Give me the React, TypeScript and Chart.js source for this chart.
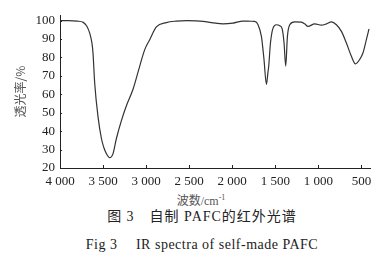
import React, { useEffect, useRef } from "react";
import { Chart, registerables } from "chart.js";

Chart.register(...registerables);

const wavenumbers = [
  4000, 3900, 3800, 3730, 3690, 3654, 3630, 3617, 3597, 3559, 3519, 3490, 3461, 3423, 3384, 3345,
  3287, 3229, 3152, 3074, 3016, 2958, 2881, 2765, 2650, 2532, 2420, 2339, 2220, 2107, 1991, 1875,
  1780, 1739, 1700, 1661, 1640, 1631, 1603, 1585, 1576, 1556, 1526, 1487, 1448, 1420, 1398, 1379,
  1359, 1332, 1274, 1196, 1158, 1120, 1042, 964, 906, 848, 790, 732, 674, 616, 569, 519, 481, 442, 412,
];
const transmittance = [
  100, 100, 99.7, 99, 97, 93, 88, 82.5, 66, 48, 36, 31, 27.8, 25.6, 27.8, 36,
  45.7, 53.8, 62.7, 75.3, 84.2, 89.6, 96.5, 98.9, 99.7, 100, 99.8, 99.5, 98.7, 98.2, 98.6, 99.7,
  99.6, 99.5, 97.7, 91.4, 83, 78.9, 65.4, 72, 75.3, 87.8, 95.9, 97.7, 97.2, 95.5, 87.8, 75.3,
  91.4, 97.7, 99.3, 99.1, 98.2, 96.8, 98.2, 97.5, 98.2, 99.3, 97.7, 94.1, 87.8, 80.6, 76.5, 78.9, 82.5, 89.6, 95.4,
];
const xTickValues = [4000, 3500, 3000, 2500, 2000, 1500, 1000, 500];
const yTickValues = [20, 30, 40, 50, 60, 70, 80, 90, 100];

const yTitle = "透光率/%";
const xTitle = "波数/cm";
const captionCN = "图 3\u2003自制 PAFC的红外光谱";
const captionEN = "Fig 3\u2003 IR spectra of self-made PAFC";

function fmt(v: number): string {
  if (v >= 1000) {
    return `${Math.floor(v / 1000)} ${String(v % 1000).padStart(3, "0")}`;
  }
  return String(v);
}

const innerTicks = {
  id: "innerTicks",
  afterDatasetsDraw(chart: any) {
    const { ctx, scales } = chart;
    const xs = scales.x;
    const ys = scales.y;
    ctx.save();
    ctx.strokeStyle = "#222";
    ctx.lineWidth = 1;
    ctx.beginPath();
    for (const v of xTickValues) {
      const px = Math.round(xs.getPixelForValue(v)) + 0.5;
      ctx.moveTo(px, ys.bottom);
      ctx.lineTo(px, ys.bottom - 3);
    }
    for (const v of yTickValues) {
      const py = Math.round(ys.getPixelForValue(v)) + 0.5;
      ctx.moveTo(xs.left, py);
      ctx.lineTo(xs.left + 2, py);
    }
    ctx.stroke();
    ctx.restore();
  },
};

export default function App() {
  const ref = useRef<HTMLCanvasElement | null>(null);
  useEffect(() => {
    if (!ref.current) return;
    const points = wavenumbers.map((w, i) => ({ x: w, y: transmittance[i] }));
    const chart = new Chart(ref.current, {
      type: "line",
      data: {
        datasets: [
          {
            data: points,
            borderColor: "#333",
            borderWidth: 1.2,
            pointRadius: 0,
            cubicInterpolationMode: "monotone",
            fill: false,
          },
        ],
      },
      options: {
        responsive: false,
        animation: false,
        layout: { padding: { left: 0, right: 14, top: 15, bottom: 0 } },
        plugins: { legend: { display: false }, tooltip: { enabled: false } },
        scales: {
          x: {
            type: "linear",
            min: 400,
            max: 4000,
            reverse: true,
            afterBuildTicks: (s: any) => {
              s.ticks = xTickValues.map((v) => ({ value: v }));
            },
            afterFit: (s: any) => {
              s.height = 22;
            },
            grid: { display: false, drawTicks: false },
            border: { display: true, color: "#222", width: 1 },
            ticks: {
              autoSkip: false,
              maxRotation: 0,
              padding: 6,
              color: "#222",
              font: { family: "Liberation Serif", size: 13 },
              callback: (v: any) => fmt(Number(v)),
            },
          },
          y: {
            min: 20,
            max: 103,
            afterBuildTicks: (s: any) => {
              s.ticks = yTickValues.map((v) => ({ value: v }));
            },
            afterFit: (s: any) => {
              s.width = 60;
            },
            grid: { display: false, drawTicks: false },
            border: { display: true, color: "#222", width: 1 },
            ticks: {
              padding: 5,
              color: "#222",
              font: { family: "Liberation Serif", size: 13 },
            },
            title: {
              display: true,
              text: yTitle,
              color: "#555",
              font: { family: "Noto Sans CJK SC", size: 12 },
              padding: { top: 13, bottom: 0 },
            },
          },
        },
      },
      plugins: [innerTicks],
    });
    return () => chart.destroy();
  }, []);

  const serif = "'Liberation Serif', 'Noto Sans CJK SC', serif";
  return (
    <div style={{ position: "absolute", left: 0, top: 0, width: 384, height: 266, background: "#fff", fontFamily: serif }}>
      <canvas ref={ref} width={384} height={190} style={{ display: "block" }} />
      <div style={{ position: "absolute", left: 0, width: 384, top: 190, textAlign: "center", fontSize: 12, color: "#555", paddingLeft: 18, boxSizing: "border-box", lineHeight: "16px" }}>
        {xTitle}
        <sup style={{ fontSize: 8 }}>-1</sup>
      </div>
      <div style={{ position: "absolute", left: 0, width: 384, top: 208, textAlign: "center", fontSize: 14, color: "#222", paddingLeft: 20, boxSizing: "border-box", letterSpacing: 1, lineHeight: "18px", whiteSpace: "pre" }}>
        {captionCN}
      </div>
      <div style={{ position: "absolute", left: 0, width: 384, top: 236, textAlign: "center", fontSize: 14, color: "#222", paddingLeft: 20, boxSizing: "border-box", letterSpacing: 0.5, lineHeight: "18px", whiteSpace: "pre" }}>
        {captionEN}
      </div>
    </div>
  );
}
